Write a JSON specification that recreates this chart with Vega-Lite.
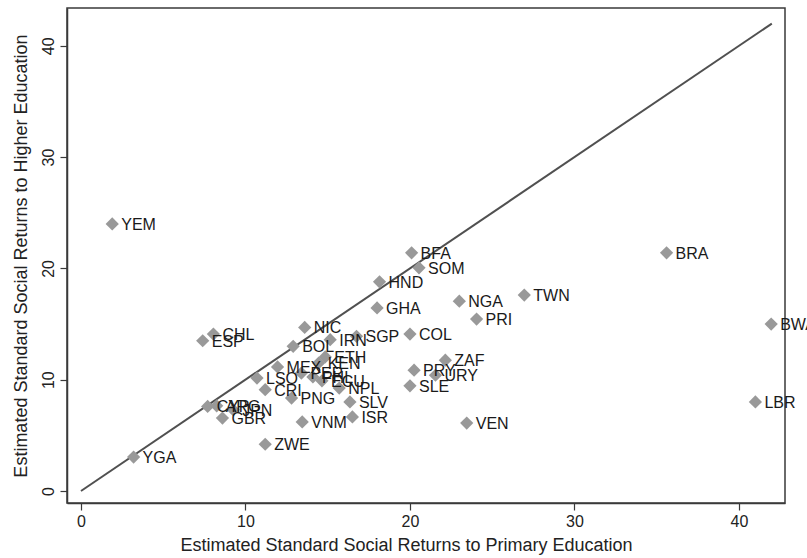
{
  "$schema": "https://vega.github.io/schema/vega-lite/v6.json",
  "width": 718,
  "height": 495,
  "autosize": {"type": "none"},
  "padding": {"left": 67, "top": 8, "right": 22, "bottom": 55},
  "background": "white",
  "config": {
    "font": "Liberation Sans",
    "view": {"stroke": "#3a3a3a", "strokeWidth": 1.5},
    "axis": {
      "grid": false,
      "domainColor": "#3a3a3a",
      "domainWidth": 1.5,
      "tickColor": "#3a3a3a",
      "tickWidth": 1.2,
      "tickSize": 7,
      "labelFont": "Liberation Sans",
      "labelFontSize": 16,
      "labelColor": "#222222",
      "titleFont": "Liberation Sans",
      "titleFontSize": 18,
      "titleFontWeight": "normal",
      "titleColor": "#222222"
    }
  },
  "datasets": {
    "countries": [
      {"code": "YEM", "primary": 1.9, "higher": 24.0},
      {"code": "YGA", "primary": 3.2, "higher": 3.05},
      {"code": "ESP", "primary": 7.4, "higher": 13.5},
      {"code": "CHL", "primary": 8.05, "higher": 14.1},
      {"code": "CYP", "primary": 7.7, "higher": 7.6},
      {"code": "ARG", "primary": 8.25, "higher": 7.65},
      {"code": "GBR", "primary": 8.6, "higher": 6.55},
      {"code": "JPN", "primary": 9.25, "higher": 7.3},
      {"code": "LSO", "primary": 10.7, "higher": 10.15},
      {"code": "CRI", "primary": 11.2, "higher": 9.1},
      {"code": "MEX", "primary": 11.95, "higher": 11.15},
      {"code": "BOL", "primary": 12.9, "higher": 13.0},
      {"code": "NIC", "primary": 13.6, "higher": 14.7},
      {"code": "PNG", "primary": 12.8, "higher": 8.35},
      {"code": "VNM", "primary": 13.45, "higher": 6.2},
      {"code": "ZWE", "primary": 11.2, "higher": 4.2},
      {"code": "IRN", "primary": 15.15, "higher": 13.6},
      {"code": "SGP", "primary": 16.75, "higher": 13.9},
      {"code": "ETH", "primary": 14.85, "higher": 12.05},
      {"code": "KEN", "primary": 14.45, "higher": 11.5},
      {"code": "PER", "primary": 13.4, "higher": 10.6},
      {"code": "PHL", "primary": 14.1, "higher": 10.25},
      {"code": "ECU", "primary": 14.65, "higher": 9.9},
      {"code": "NPL", "primary": 15.7, "higher": 9.25},
      {"code": "SLV", "primary": 16.35, "higher": 8.0},
      {"code": "ISR", "primary": 16.5, "higher": 6.65},
      {"code": "GHA", "primary": 18.0, "higher": 16.45},
      {"code": "HND", "primary": 18.15, "higher": 18.8},
      {"code": "BFA", "primary": 20.1, "higher": 21.4},
      {"code": "SOM", "primary": 20.55, "higher": 20.05},
      {"code": "COL", "primary": 20.0, "higher": 14.1},
      {"code": "PRY", "primary": 20.25, "higher": 10.85},
      {"code": "SLE", "primary": 20.0, "higher": 9.45},
      {"code": "URY", "primary": 21.55, "higher": 10.4},
      {"code": "ZAF", "primary": 22.15, "higher": 11.75},
      {"code": "NGA", "primary": 23.0, "higher": 17.05},
      {"code": "PRI", "primary": 24.05, "higher": 15.45},
      {"code": "TWN", "primary": 26.95, "higher": 17.6},
      {"code": "VEN", "primary": 23.45, "higher": 6.1},
      {"code": "BRA", "primary": 35.6, "higher": 21.4},
      {"code": "BWA", "primary": 41.96, "higher": 15.0},
      {"code": "LBR", "primary": 41.0, "higher": 8.0}
    ],
    "equality": [
      {"primary": 0, "higher": 0},
      {"primary": 42, "higher": 42}
    ]
  },
  "layer": [
    {
      "data": {"name": "equality"},
      "mark": {"type": "line", "color": "#505050", "strokeWidth": 2},
      "encoding": {
        "x": {
          "field": "primary",
          "type": "quantitative",
          "scale": {"domain": [-0.85, 42.8], "nice": false, "zero": false},
          "axis": {
            "values": [0, 10, 20, 30, 40],
            "title": "Estimated Standard Social Returns to Primary Education",
            "titleX": 339,
            "titlePadding": 7,
            "labelPadding": 3
          }
        },
        "y": {
          "field": "higher",
          "type": "quantitative",
          "scale": {"domain": [-1.08, 43.4], "nice": false, "zero": false},
          "axis": {
            "values": [0, 10, 20, 30, 40],
            "title": "Estimated Standard Social Returns to Higher Education",
            "labelAngle": -90,
            "labelAlign": "center",
            "labelBaseline": "bottom",
            "labelPadding": 4,
            "titlePadding": 10
          }
        }
      }
    },
    {
      "data": {"name": "countries"},
      "mark": {"type": "point", "shape": "diamond", "filled": true, "size": 175, "color": "#999999", "opacity": 1},
      "encoding": {
        "x": {"field": "primary", "type": "quantitative"},
        "y": {"field": "higher", "type": "quantitative"}
      }
    },
    {
      "data": {"name": "countries"},
      "mark": {"type": "text", "align": "left", "baseline": "middle", "dx": 9, "dy": 1, "fontSize": 16, "color": "#1a1a1a", "font": "Liberation Sans"},
      "encoding": {
        "x": {"field": "primary", "type": "quantitative"},
        "y": {"field": "higher", "type": "quantitative"},
        "text": {"field": "code"}
      }
    }
  ]
}
